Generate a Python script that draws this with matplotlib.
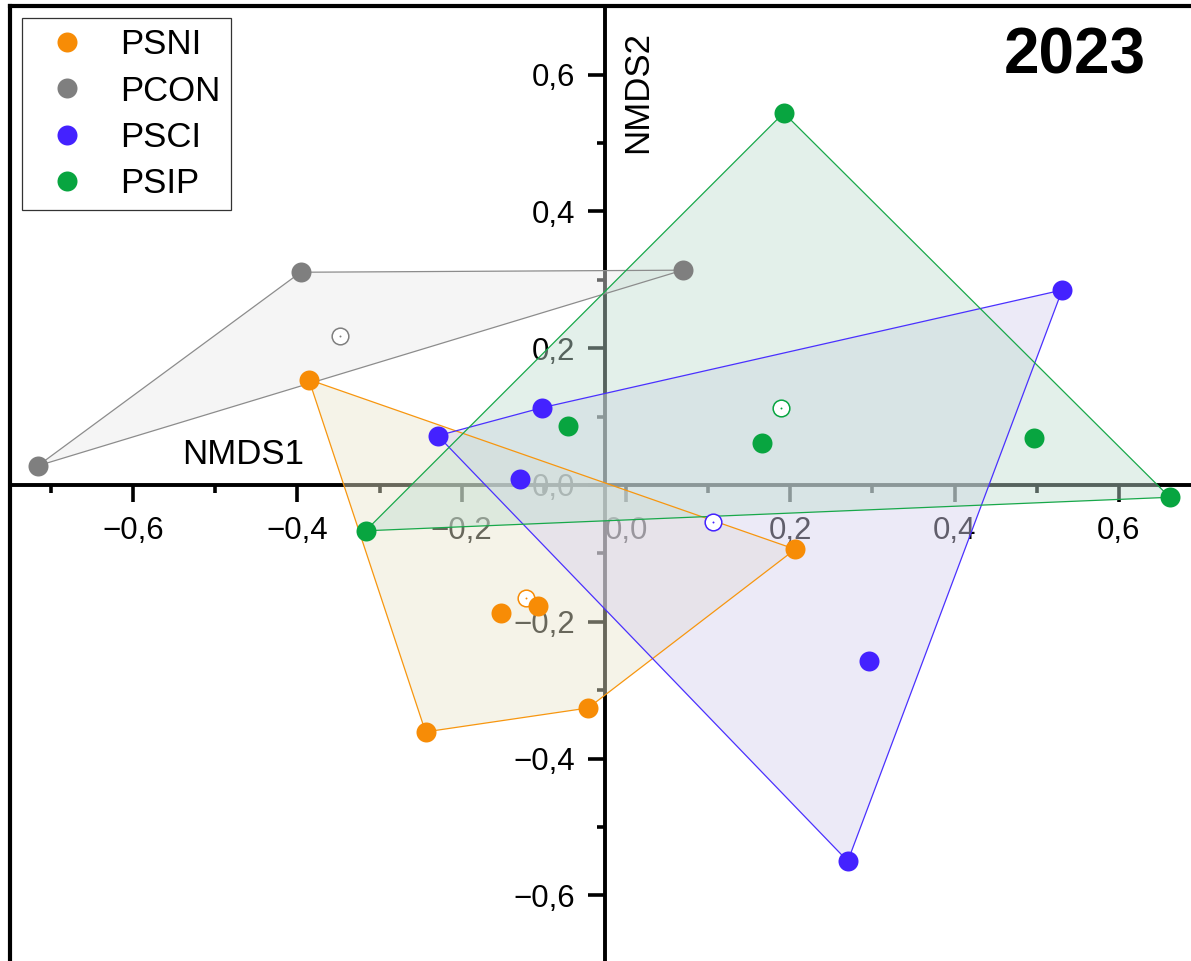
import matplotlib.pyplot as plt
import numpy as np
from matplotlib.ticker import MultipleLocator, FuncFormatter

plt.rcParams['font.family'] = ['Liberation Sans', 'DejaVu Sans']

# NMDS scores per site group
groups = ["PSNI", "PCON", "PSCI", "PSIP"]

psni_x = [-0.386, 0.206, -0.046, -0.244, -0.152, -0.107]
psni_y = [0.154, -0.094, -0.326, -0.361, -0.187, -0.177]

pcon_x = [-0.716, -0.396, 0.069]
pcon_y = [0.028, 0.311, 0.314]

psci_x = [-0.229, -0.102, -0.129, 0.531, 0.296, 0.270]
psci_y = [0.072, 0.113, 0.009, 0.285, -0.257, -0.550]

psip_x = [0.192, 0.662, -0.317, -0.071, 0.166, 0.497]
psip_y = [0.544, -0.018, -0.067, 0.086, 0.061, 0.069]

scores = [(psni_x, psni_y), (pcon_x, pcon_y), (psci_x, psci_y), (psip_x, psip_y)]

point_colors = ["#F78C06", "#7F7F7F", "#4422FF", "#08A540"]
line_colors = ["#F7960F", "#8C8C8C", "#4A30FF", "#18A84A"]
fill_colors = ["#E9E5CC", "#EBEBEB", "#D7D1EE", "#C1DED1"]


def convex_hull(xs, ys):
    pts = sorted(zip(xs, ys))

    def cross(o, a, b):
        return (a[0] - o[0]) * (b[1] - o[1]) - (a[1] - o[1]) * (b[0] - o[0])

    lower = []
    for p in pts:
        while len(lower) >= 2 and cross(lower[-2], lower[-1], p) <= 0:
            lower.pop()
        lower.append(p)
    upper = []
    for p in reversed(pts):
        while len(upper) >= 2 and cross(upper[-2], upper[-1], p) <= 0:
            upper.pop()
        upper.append(p)
    return lower[:-1] + upper[:-1]


def fmt(v, pos):
    if abs(v) < 1e-9:
        v = 0.0
    return f"{v:.1f}".replace('.', ',').replace('-', '\u2212')


fig = plt.figure(figsize=(11.91, 9.61), dpi=100)
ax = fig.add_axes([0.0083, -0.0029, 1.0001, 0.9965])
ax.set_xlim(-0.75, 0.70)
ax.set_ylim(-0.70, 0.70)

# axes crossing through the origin
ax.spines['bottom'].set_position(('data', 0))
ax.spines['left'].set_position(('data', -0.025))
ax.spines['top'].set_visible(False)
ax.spines['right'].set_visible(False)
for s in ('bottom', 'left'):
    ax.spines[s].set_linewidth(2.8)
    ax.spines[s].set_zorder(0.5)
ax.set_axisbelow(True)

ax.xaxis.set_major_locator(MultipleLocator(0.2))
ax.xaxis.set_minor_locator(MultipleLocator(0.1))
ax.yaxis.set_major_locator(MultipleLocator(0.2))
ax.yaxis.set_minor_locator(MultipleLocator(0.1))
ax.xaxis.set_major_formatter(FuncFormatter(fmt))
ax.yaxis.set_major_formatter(FuncFormatter(fmt))
ax.tick_params(which='major', direction='out', length=12, width=2.6, labelsize=22.5, pad=10)
ax.tick_params(which='minor', direction='out', length=6, width=2.6)

for i, (xs, ys) in enumerate(scores):
    h = convex_hull(xs, ys)
    hx = [p[0] for p in h] + [h[0][0]]
    hy = [p[1] for p in h] + [h[0][1]]
    ax.fill(hx, hy, color=fill_colors[i], alpha=0.45, lw=0, zorder=1)
    ax.plot(hx, hy, color=line_colors[i], lw=0.9, zorder=2)

for i, (xs, ys) in enumerate(scores):
    ax.plot(xs, ys, 'o', ms=14.4, mew=0, color=point_colors[i], label=groups[i], zorder=4)
    # group centroid
    cx, cy = np.mean(xs), np.mean(ys)
    ax.plot(cx, cy, 'o', ms=12.0, mfc='white', mec=point_colors[i], mew=1.1, zorder=3.5)
    ax.plot(cx, cy, 'o', ms=1.4, mew=0, color=point_colors[i], zorder=3.6)

ax.set_xlabel("NMDS1", fontsize=25)
ax.xaxis.set_label_coords(-0.466, 0.044, transform=ax.transData)
ax.xaxis.label.set_va('center')
ax.set_ylabel("NMDS2", fontsize=25)
ax.yaxis.set_label_coords(0.0146, 0.575, transform=ax.transData)
ax.yaxis.label.set_va('center')

leg = ax.legend(loc='upper left', bbox_to_anchor=(22 / 1191, 1 - 18 / 961),
                bbox_transform=fig.transFigure, borderaxespad=0, fontsize=25,
                fancybox=False, framealpha=1, edgecolor='#333333',
                borderpad=0.3, handlelength=1.99, handletextpad=0.54,
                labelspacing=0.38, numpoints=1)
leg.get_frame().set_linewidth(0.9)

# outer frame
frame = fig.add_axes(ax.get_position(), facecolor='none')
frame.set_xticks([])
frame.set_yticks([])
frame.spines['right'].set_visible(False)
frame.spines['bottom'].set_visible(False)
frame.spines['left'].set_linewidth(3)
frame.spines['top'].set_linewidth(3)

fig.text(1146 / 1191, 1 - 57 / 961, "2023", ha='right', va='center',
         fontsize=46, fontweight='bold')

fig.savefig("out.png", dpi=100)
